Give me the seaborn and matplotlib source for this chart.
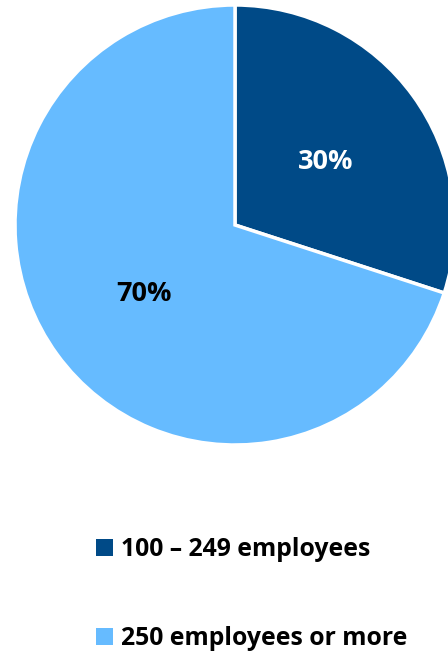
import matplotlib
matplotlib.use("Agg")
import matplotlib.pyplot as plt
import seaborn as sns
import numpy as np
from matplotlib.patches import Patch

categories = ["100 – 249 employees", "250 employees or more"]
values = [30, 70]
labels = ["30%", "70%"]
colors = ["#004A87", "#66BBFF"]
label_colors = ["white", "black"]

sns.set_theme(style="white")
plt.rcParams['font.family'] = ['Open Sans', 'DejaVu Sans']
plt.rcParams['text.color'] = 'black'

fig = plt.figure(figsize=(4.48, 6.54), dpi=100)
ax = fig.add_axes([15/448, (654-445)/654, 440/448, 440/654])
wedges, _ = ax.pie(values, colors=colors, startangle=90, counterclock=False,
                   wedgeprops=dict(edgecolor="white", linewidth=2.5))
ax.set_xlim(-1, 1)
ax.set_ylim(-1, 1)
ax.set_aspect("equal")

angle = 90.0
total = sum(values)
for v, lab, lc in zip(values, labels, label_colors):
    span = 360.0 * v / total
    mid = np.deg2rad(angle - span / 2)
    r = 0.51
    ax.text(r * np.cos(mid), r * np.sin(mid), lab, ha="center", va="center_baseline",
            fontsize=19.5, fontweight="bold", color=lc)
    angle -= span

handles = [Patch(facecolor=c, edgecolor="none") for c in colors]
leg = fig.legend(handles, categories, loc="center", bbox_to_anchor=(252/448, 1 - 594/654),
                 frameon=False, prop=dict(weight="bold", size=17.8),
                 labelspacing=2.6, handlelength=0.68, handleheight=0.68, handletextpad=0.32)
for t in leg.get_texts():
    t.set_color("black")
fig.savefig("out.png", dpi=100)
